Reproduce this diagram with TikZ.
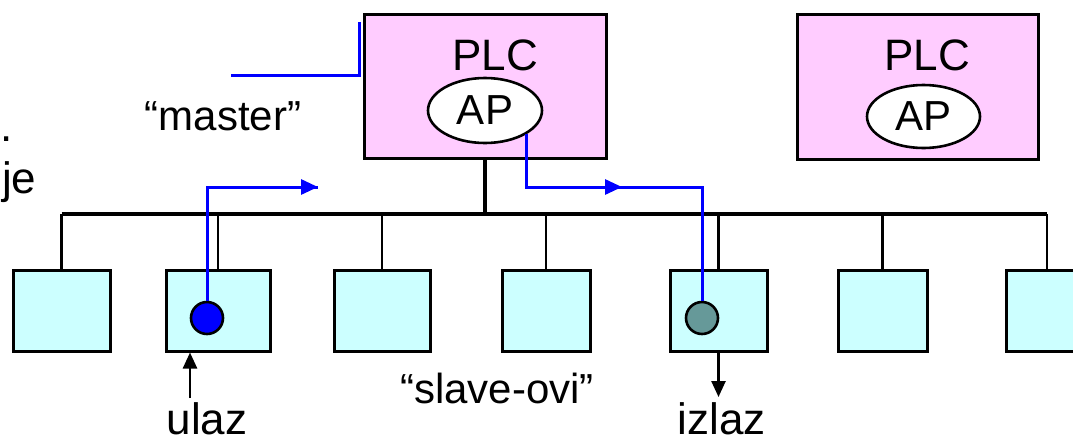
\documentclass[tikz,border=0pt]{standalone}
\usepackage{fontspec}
\setmainfont{Liberation Sans}
\usetikzlibrary{arrows.meta,shapes.geometric}
\definecolor{plcpink}{HTML}{FFCCFF}
\definecolor{slavecyan}{HTML}{CCFFFF}
\definecolor{sigblue}{HTML}{0000FF}
\definecolor{outteal}{HTML}{669999}
\begin{document}
\begin{tikzpicture}[x=1pt,y=-1pt,
  plcbox/.style={draw,line width=3pt,fill=plcpink,inner sep=0pt,minimum width=242pt,minimum height=144pt},
  apell/.style={ellipse,draw,line width=2.6pt,fill=white,inner sep=0pt,font=\fontsize{42}{42}\selectfont},
  slavebox/.style={draw,line width=3pt,fill=slavecyan,inner sep=0pt,minimum height=81pt},
  dot/.style={circle,draw,line width=2.6pt,inner sep=0pt,minimum size=32pt},
  bigtxt/.style={inner sep=0pt,anchor=base,font=\fontsize{42}{42}\selectfont},
  sig/.style={draw=sigblue,line width=3pt},
  sigarrow/.style={sig,-{Triangle[length=17pt,width=15pt]}},
  wire/.style={line width=2.5pt},
  busline/.style={line width=3.2pt},
  trunk/.style={line width=4pt},
  ioarrow/.style={line width=2.5pt,-{Triangle[length=16pt,width=14pt]}}
]
\useasboundingbox (0,0) rectangle (1073,440);

% PLCs
\node[plcbox] (plc1) at (485,86) {};
\node[bigtxt,font=\fontsize{44}{44}\selectfont] (plct1) at (495,70) {PLC};
\node[apell,minimum width=114pt,minimum height=65pt] (ap1) at (485,110.5) {AP};
\node[plcbox,minimum width=241pt,minimum height=145pt] (plc2) at (917.5,86.5) {};
\node[bigtxt,font=\fontsize{44}{44}\selectfont] (plct2) at (927,70) {PLC};
\node[apell,minimum width=113pt,minimum height=63pt] (ap2) at (923.5,116.5) {AP};

% master label and line
\node[bigtxt] (master) at (223,130) {“master”};
\coordinate (ml1) at (231,75);
\coordinate (ml2) at (359,75);
\coordinate (ml3) at (359,22);
\draw[sig] (ml1) -- (ml2) -- (ml3);

% left cut text
\node[bigtxt,anchor=base west,font=\fontsize{44}{44}\selectfont] (dotl) at (0,141) {.};
\node[bigtxt,anchor=base west,font=\fontsize{44}{44}\selectfont] (jel) at (2,193) {je};

% slaves
\node[slavebox,minimum width=97pt] (s1) at (61.5,310.5) {};
\node[slavebox,minimum width=104pt] (s2) at (218,310.5) {};
\node[slavebox,minimum width=96pt] (s3) at (382,310.5) {};
\node[slavebox,minimum width=88pt] (s4) at (546,310.5) {};
\node[slavebox,minimum width=97pt] (s5) at (718.5,310.5) {};
\node[slavebox,minimum width=89pt] (s6) at (882.5,310.5) {};
\node[slavebox,minimum width=82pt] (s7) at (1047,310.5) {};

% bus
\coordinate (busy) at (0,214);
\draw[trunk] (plc1.south) -- (plc1.south |- busy);
\draw[busline] (s1.north |- busy) -- (s7.north |- busy);
\foreach \s in {s1,s2,s3,s4,s5,s6,s7}{
  \draw[wire] (\s.north) -- (\s.north |- busy);
}

% io dots
\node[dot,fill=sigblue] (in1) at (207,318) {};
\node[dot,fill=outteal] (out1) at (702,318) {};

% signal paths
\coordinate (sy) at (0,187);
\coordinate (a1tip) at (318,187);
\draw[sig] (in1.north) -- (in1.north |- sy) -- (a1tip);
\draw[sigarrow] (in1.north |- sy) -- (a1tip);
\coordinate (a2tip) at (622,187);
\draw[sig] (ap1.south east) -- (ap1.south east |- sy) -- (out1.north |- sy) -- (out1.north);
\draw[sigarrow] (ap1.south east |- sy) -- (a2tip);

% ulaz / izlaz
\coordinate (ulazt) at (190,398);
\draw[ioarrow] (ulazt) -- (ulazt |- s2.south);
\coordinate (izlazt) at (718.5,397);
\draw[ioarrow] (s5.south) -- (izlazt);
\node[bigtxt,font=\fontsize{44}{44}\selectfont] (ulaz) at (207,434) {ulaz};
\node[bigtxt,font=\fontsize{44}{44}\selectfont] (izlaz) at (722,434) {izlaz};
\node[bigtxt] (slaves) at (497,403) {“slave-ovi”};
\end{tikzpicture}
\end{document}
